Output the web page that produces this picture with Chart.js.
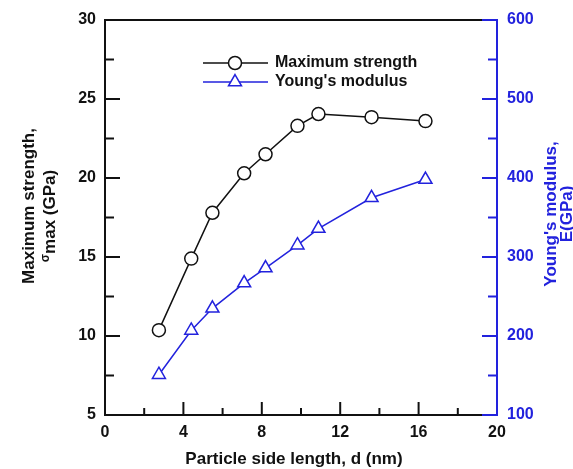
<!DOCTYPE html>
<html>
<head>
<meta charset="utf-8">
<script src="https://cdn.jsdelivr.net/npm/chart.js@4/dist/chart.umd.min.js"></script>
<style>
  html, body { margin: 0; padding: 0; background: #fff; }
  #wrap { width: 573px; height: 469px; }
</style>
</head>
<body>
<div id="wrap"><canvas id="chart"></canvas></div>
<script>
// values
const particleSize = [2.75, 4.4, 5.48, 7.1, 8.19, 9.82, 10.89, 13.6, 16.35];
const maxStrength = [10.37, 14.9, 17.8, 20.3, 21.5, 23.3, 24.05, 23.85, 23.6];
const youngsModulus = [151, 207, 235, 267, 286, 315, 336, 375, 398];
const seriesLabels = ['Maximum strength', "Young's modulus"];
const xTicks = [0, 4, 8, 12, 16, 20];
const strengthTicks = [5, 10, 15, 20, 25, 30];
const modulusTicks = [100, 200, 300, 400, 500, 600];

const BLACK = '#111111';
const BLUE = '#2222dd';
const FONT = 'Arial, "Liberation Sans", sans-serif';

const frame = {
    id: 'frame',
    afterDraw(chart) {
        const { ctx, chartArea: a, scales: { x, y, y1 } } = chart;
        ctx.save();
        ctx.lineCap = 'butt';

        const line = (x0, y0, x1, y1_, color, w) => {
            ctx.strokeStyle = color;
            ctx.lineWidth = w;
            ctx.beginPath();
            ctx.moveTo(x0, y0);
            ctx.lineTo(x1, y1_);
            ctx.stroke();
        };

        // frame
        line(a.left, a.top, a.right, a.top, BLACK, 2);
        line(a.left, a.bottom, a.right, a.bottom, BLACK, 2);
        line(a.left, a.top - 1, a.left, a.bottom + 1, BLACK, 2);
        line(a.right, a.top - 1, a.right, a.bottom + 1, BLUE, 2);

        // inward ticks, major + minor
        xTicks.forEach((v, i) => {
            const px = x.getPixelForValue(v);
            if (i > 0 && i < xTicks.length - 1) line(px, a.bottom, px, a.bottom - 13, BLACK, 2);
            if (i < xTicks.length - 1) {
                const mx = x.getPixelForValue(v + 2);
                line(mx, a.bottom, mx, a.bottom - 7, BLACK, 2);
            }
        });
        strengthTicks.forEach((v, i) => {
            const py = y.getPixelForValue(v);
            if (i > 0 && i < strengthTicks.length - 1) line(a.left, py, a.left + 15, py, BLACK, 2);
            if (i < strengthTicks.length - 1) {
                const my = y.getPixelForValue(v + 2.5);
                line(a.left, my, a.left + 9, my, BLACK, 2);
            }
        });
        modulusTicks.forEach((v, i) => {
            const py = y1.getPixelForValue(v);
            line(a.right, py, a.right - 15, py, BLUE, 2);
            if (i < modulusTicks.length - 1) {
                const my = y1.getPixelForValue(v + 50);
                line(a.right, my, a.right - 9, my, BLUE, 2);
            }
        });

        // axis titles
        ctx.fillStyle = BLACK;
        ctx.font = 'bold 17px ' + FONT;
        ctx.textAlign = 'center';
        ctx.textBaseline = 'middle';
        ctx.fillText('Particle side length, d (nm)', 294, 459);

        ctx.save();
        ctx.translate(29, 206);
        ctx.rotate(-Math.PI / 2);
        ctx.fillText('Maximum strength,', 0, 0);
        const rest = 'max (GPa)';
        ctx.font = 'bold 12px ' + FONT;
        const sw = ctx.measureText('σ').width;
        ctx.font = 'bold 17px ' + FONT;
        const rw = ctx.measureText(rest).width;
        const x0 = -10 - (sw + rw) / 2;
        ctx.textAlign = 'left';
        ctx.font = 'bold 12px ' + FONT;
        ctx.fillText('σ', x0, 17);
        ctx.font = 'bold 17px ' + FONT;
        ctx.fillText(rest, x0 + sw, 21);
        ctx.restore();

        ctx.save();
        ctx.fillStyle = BLUE;
        ctx.font = 'bold 17px ' + FONT;
        ctx.textAlign = 'center';
        ctx.textBaseline = 'middle';
        ctx.translate(551, 214);
        ctx.rotate(-Math.PI / 2);
        ctx.fillText("Young's modulus,", 0, 0);
        ctx.fillText('E(GPa)', 0, 16);
        ctx.restore();

        // legend
        const rows = [
            { label: seriesLabels[0], color: BLACK, y: 63, style: 'circle' },
            { label: seriesLabels[1], color: BLUE, y: 82, style: 'triangle' }
        ];
        rows.forEach(r => {
            line(203, r.y, 268, r.y, r.color, 1.5);
            ctx.fillStyle = '#fff';
            ctx.strokeStyle = r.color;
            ctx.lineWidth = 1.5;
            ctx.beginPath();
            if (r.style === 'circle') {
                ctx.arc(235, r.y, 6.5, 0, Math.PI * 2);
            } else {
                const rad = 7.5;
                ctx.moveTo(235, r.y - rad);
                ctx.lineTo(235 + rad * Math.sin(2 * Math.PI / 3), r.y + rad / 2);
                ctx.lineTo(235 - rad * Math.sin(2 * Math.PI / 3), r.y + rad / 2);
                ctx.closePath();
            }
            ctx.fill();
            ctx.stroke();
            ctx.fillStyle = BLACK;
            ctx.font = 'bold 16px ' + FONT;
            ctx.textAlign = 'left';
            ctx.textBaseline = 'middle';
            ctx.fillText(r.label, 275, r.y);
        });

        ctx.restore();
    }
};

new Chart(document.getElementById('chart'), {
    type: 'line',
    data: {
        datasets: [
            {
                label: seriesLabels[0],
                data: particleSize.map((d, i) => ({ x: d, y: maxStrength[i] })),
                yAxisID: 'y',
                borderColor: BLACK,
                borderWidth: 1.5,
                pointStyle: 'circle',
                pointRadius: 6.5,
                pointBorderWidth: 1.5,
                pointBorderColor: BLACK,
                pointBackgroundColor: '#fff',
                tension: 0
            },
            {
                label: seriesLabels[1],
                data: particleSize.map((d, i) => ({ x: d, y: youngsModulus[i] })),
                yAxisID: 'y1',
                borderColor: BLUE,
                borderWidth: 1.5,
                pointStyle: 'triangle',
                pointRadius: 7.5,
                pointBorderWidth: 1.5,
                pointBorderColor: BLUE,
                pointBackgroundColor: '#fff',
                tension: 0
            }
        ]
    },
    options: {
        responsive: true,
        maintainAspectRatio: false,
        animation: false,
        events: [],
        layout: { padding: { top: 20, left: 0, right: 0, bottom: 0 } },
        plugins: { legend: { display: false }, tooltip: { enabled: false } },
        scales: {
            x: {
                type: 'linear',
                min: 0, max: 20,
                afterFit: s => { s.height = 54; },
                afterBuildTicks: s => { s.ticks = xTicks.map(v => ({ value: v })); },
                grid: { display: false, drawTicks: false },
                border: { display: false },
                ticks: { color: BLACK, font: { family: FONT, size: 16, weight: 'bold' }, padding: 8 }
            },
            y: {
                position: 'left',
                min: 5, max: 30,
                afterFit: s => { s.width = 105; },
                afterBuildTicks: s => { s.ticks = strengthTicks.map(v => ({ value: v })); },
                grid: { display: false, drawTicks: false },
                border: { display: false },
                ticks: { color: BLACK, font: { family: FONT, size: 16, weight: 'bold' }, padding: 9 }
            },
            y1: {
                position: 'right',
                min: 100, max: 600,
                afterFit: s => { s.width = 76; },
                afterBuildTicks: s => { s.ticks = modulusTicks.map(v => ({ value: v })); },
                grid: { display: false, drawTicks: false },
                border: { display: false },
                ticks: { color: BLUE, font: { family: FONT, size: 16, weight: 'bold' }, padding: 10 }
            }
        }
    },
    plugins: [frame]
});
</script>
</body>
</html>
